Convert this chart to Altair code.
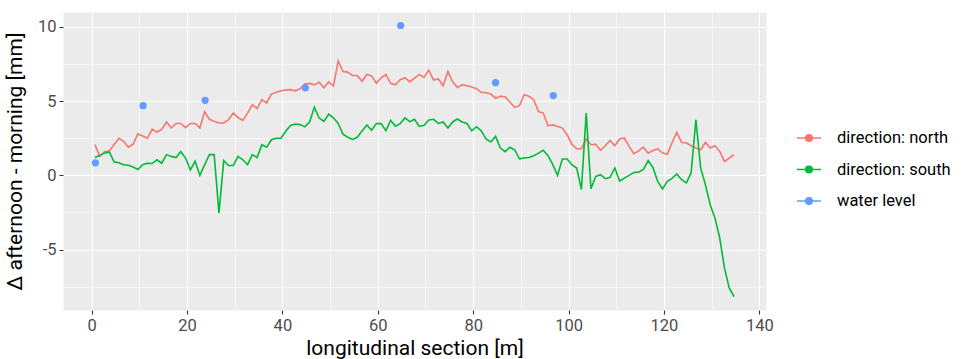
import altair as alt
import pandas as pd

# Δ afternoon - morning [mm] along the longitudinal section, one value per metre
north = [2.07, 1.28, 1.6, 1.65, 2.07, 2.5, 2.3, 1.9, 2.1, 2.8,
         2.65, 2.5, 3.12, 2.92, 3.1, 3.6, 3.2, 3.5, 3.5, 3.22,
         3.5, 3.5, 3.2, 4.3, 3.78, 3.64, 3.53, 3.53, 3.75, 4.2,
         3.9, 3.7, 4.2, 4.76, 4.5, 5.1, 4.88, 5.48, 5.6, 5.7,
         5.75, 5.78, 5.7, 5.84, 6.15, 6.2, 6.1, 6.28, 5.9, 6.3,
         6.02, 7.72, 7.0, 6.96, 6.74, 6.73, 6.34, 6.8, 6.7, 6.22,
         6.58, 6.8, 6.2, 6.1, 6.45, 6.58, 6.3, 6.56, 6.8, 6.6,
         7.1, 6.43, 6.5, 6.04, 7.0, 6.3, 5.93, 6.1, 6.04, 5.95,
         5.84, 5.6, 5.57, 5.48, 5.2, 5.33, 5.3, 4.94, 4.58, 4.7,
         5.44, 5.33, 5.1, 4.3, 4.2, 3.35, 3.4, 3.3, 3.19, 2.74,
         2.1, 1.8, 1.8, 2.45, 2.07, 2.1, 1.69, 2.0, 2.36, 2.0,
         2.45, 2.52, 1.95, 1.46, 1.65, 1.9, 1.5, 1.68, 1.79, 1.5,
         1.42, 2.2, 2.9, 2.22, 2.2, 2.0, 1.84, 1.73, 2.22, 1.84,
         2.0, 1.62, 0.94, 1.17, 1.4]

south = [1.2, 1.35, 1.5, 1.58, 0.92, 0.85, 0.72, 0.68, 0.56, 0.4,
         0.72, 0.82, 0.8, 1.05, 0.82, 1.4, 1.28, 1.2, 1.6, 1.17,
         0.37, 0.95, 0.0, 0.72, 1.4, 1.4, -2.54, 1.0, 0.67, 0.67,
         1.28, 1.05, 0.72, 1.4, 1.2, 2.07, 1.9, 2.4, 2.5, 2.5,
         2.97, 3.37, 3.46, 3.42, 3.27, 3.6, 4.6, 3.87, 3.64, 4.12,
         3.88, 3.5, 2.77, 2.57, 2.42, 2.57, 3.0, 3.4, 3.04, 3.49,
         3.49, 3.02, 3.7, 3.32, 3.49, 3.87, 3.62, 3.78, 3.3, 3.37,
         3.73, 3.78, 3.5, 3.6, 3.2, 3.6, 3.8, 3.6, 3.5, 3.0,
         3.28, 3.0, 2.45, 2.25, 2.63, 1.84, 1.6, 1.9, 1.73, 1.12,
         1.17, 1.21, 1.33, 1.5, 1.69, 1.33, 0.72, 0.0, 1.1, 1.1,
         0.72, 0.5, -0.95, 4.2, -0.9, -0.07, 0.05, -0.22, -0.13, 0.5,
         -0.38, -0.18, 0.0, 0.2, 0.22, 0.4, 1.0, 0.52, -0.4, -0.91,
         -0.4, -0.2, 0.1, -0.29, -0.5, 0.18, 3.75, 0.5, -0.63, -1.98,
         -2.88, -4.22, -6.25, -7.6, -8.16]

# measurement stations [m]
section_m = [round(0.7 + i, 1) for i in range(len(north))]

# water level readings
water_x = [0.8, 10.8, 23.8, 44.8, 64.8, 84.7, 96.8]
water_y = [0.85, 4.7, 5.06, 5.9, 10.1, 6.25, 5.38]

series_names = ["direction: north", "direction: south", "water level"]
series_colors = ["#F8766D", "#00BA38", "#619CFF"]

x_ticks = list(range(0, 141, 10))
y_ticks = [-7.5, -5, -2.5, 0, 2.5, 5, 7.5, 10]

lines = pd.DataFrame({
    "section": section_m + section_m,
    "delta": north + south,
    "series": [series_names[0]] * len(north) + [series_names[1]] * len(south),
})
water = pd.DataFrame({
    "section": water_x,
    "delta": water_y,
    "series": [series_names[2]] * len(water_x),
})

FONT = "Roboto"

x_scale = alt.Scale(domain=[-6.0, 141.4], nice=False, zero=False)
y_scale = alt.Scale(domain=[-9.07, 11.01], nice=False, zero=False)


def grid_width(step):
    return {"condition": {"test": f"datum.value % {step} === 0", "value": 1.1},
            "value": 0.55}


def tick_opacity(step):
    return {"condition": {"test": f"datum.value % {step} === 0", "value": 1},
            "value": 0}


x_axis = alt.Axis(
    values=x_ticks,
    labelExpr="datum.value % 20 === 0 ? toString(datum.value) : ''",
    grid=True, gridColor="white", gridWidth=grid_width(20),
    ticks=True, tickColor="#333333", tickSize=4, tickWidth=1.1,
    tickOpacity=tick_opacity(20),
    domain=False,
    labelFont=FONT, labelFontSize=16.5, labelColor="#4D4D4D", labelPadding=3,
    labelFlush=False, labelOverlap=False,
    title="longitudinal section [m]", titleFont=FONT, titleFontSize=21,
    titleFontWeight="normal", titleColor="black",
    titleX=351.5, titleY=44, titleBaseline="alphabetic",
)

y_axis = alt.Axis(
    values=y_ticks,
    labelExpr="datum.value % 5 === 0 ? toString(datum.value) : ''",
    grid=True, gridColor="white", gridWidth=grid_width(5),
    ticks=True, tickColor="#333333", tickSize=4, tickWidth=1.1,
    tickOpacity=tick_opacity(5),
    domain=False,
    labelFont=FONT, labelFontSize=16.5, labelColor="#4D4D4D", labelPadding=3,
    labelFlush=False, labelOverlap=False,
    title="Δ afternoon - morning [mm]", titleFont=FONT, titleFontSize=21,
    titleFontWeight="normal", titleColor="black",
    titleX=-42, titleY=149, titleBaseline="alphabetic", titleAngle=270,
)

legend = alt.Legend(
    title=None, orient="none", legendX=733, legendY=113,
    symbolType="M-1,0L1,0M-0.27,0A0.27,0.27 0 1,0 0.27,0A0.27,0.27 0 1,0 -0.27,0Z",
    symbolSize=576, symbolStrokeWidth=1.6,
    labelFont=FONT, labelFontSize=16.5, labelColor="black", labelOffset=15,
    rowPadding=9.5, padding=0,
)

line_layer = alt.Chart(lines).mark_line(strokeWidth=1.6).encode(
    x=alt.X("section:Q", scale=x_scale, axis=x_axis),
    y=alt.Y("delta:Q", scale=y_scale, axis=y_axis),
    stroke=alt.Stroke("series:N", scale=alt.Scale(domain=series_names, range=series_colors),
                      legend=legend),
    detail="series:N",
)

point_layer = alt.Chart(water).mark_circle(size=52, opacity=1).encode(
    x=alt.X("section:Q", scale=x_scale),
    y=alt.Y("delta:Q", scale=y_scale),
    fill=alt.Fill("series:N", scale=alt.Scale(domain=series_names, range=series_colors),
                  legend=legend),
)

chart = alt.layer(line_layer, point_layer).properties(
    width=703, height=298,
    autosize=alt.AutoSizeParams(type="none"),
    padding={"left": 63, "top": 12, "right": 200, "bottom": 49},
    background="white",
).configure_view(
    fill="#EBEBEB", stroke="transparent",
)

chart.save("out.html", embed_options={"renderer": "svg", "actions": False})
